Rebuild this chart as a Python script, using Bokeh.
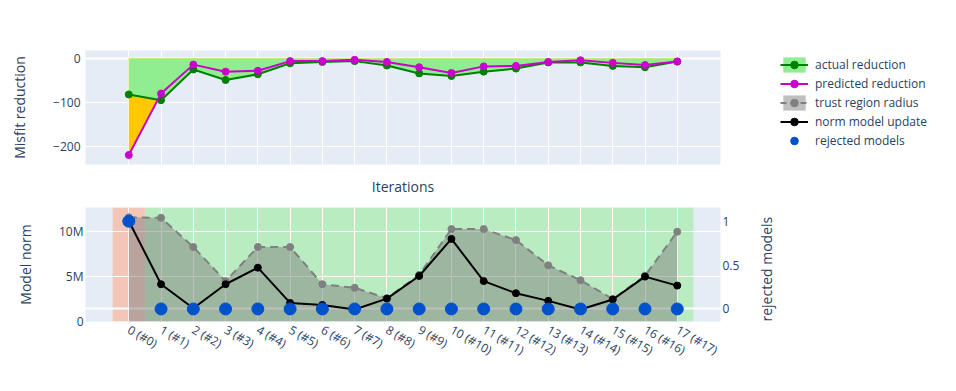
import math
from bokeh.plotting import figure
from bokeh.models import (Range1d, LinearAxis, FixedTicker, Grid, Legend, LegendItem,
                          ColumnDataSource, BoxAnnotation)
from bokeh.layouts import column
from bokeh.embed import file_html
from bokeh.resources import INLINE

# ---------------- data ----------------
iterations = [0, 1, 2, 3, 4, 5, 6, 7, 8, 9, 10, 11, 12, 13, 14, 15, 16, 17]
tick_labels = ["0 (#0)", "1 (#1)", "2 (#2)", "3 (#3)", "4 (#4)", "5 (#5)", "6 (#6)",
               "7 (#7)", "8 (#8)", "9 (#9)", "10 (#10)", "11 (#11)", "12 (#12)",
               "13 (#13)", "14 (#14)", "15 (#15)", "16 (#16)", "17 (#17)"]
actual_reduction = [-82, -95, -25, -49, -36, -11, -8, -6, -16, -34, -40, -30, -23, -9, -9, -17, -20, -7]
predicted_reduction = [-220, -80, -14, -30, -28, -6, -6, -3, -8, -20, -33, -18, -17, -8, -4, -10, -15, -7]
trust_region_radius = [11600000, 11550000, 8300000, 4500000, 8300000, 8300000, 4150000, 3750000,
                       2600000, 5200000, 10300000, 10300000, 9070000, 6260000, 4600000, 2500000,
                       5100000, 10000000]
norm_model_update = [11200000, 4150000, 1480000, 4150000, 6000000, 2070000, 1850000, 1330000,
                     2550000, 5070000, 9200000, 4500000, 3150000, 2300000, 1330000, 2450000,
                     5000000, 4000000]
rejected = [1, 0, 0, 0, 0, 0, 0, 0, 0, 0, 0, 0, 0, 0, 0, 0, 0, 0]

misfit_ticks = [-200, -100, 0]
misfit_tick_labels = ["\u2212200", "\u2212100", "0"]
norm_ticks = [0, 5000000, 10000000]
norm_tick_labels = ["0", "5M", "10M"]
rej_ticks = [0, 0.5, 1]
rej_tick_labels = ["0", "0.5", "1"]

# ---------------- styles ----------------
BG = "#E5ECF6"
TXT = "#2a3f5f"
FONT = "Open Sans"
GREEN_FILL = "#90EE90"
YELLOW_FILL = "#FFC800"
GREEN_LINE = "#008000"
MAGENTA = "#cc00cc"
GREY = "#808080"
BLUE = "#0052cc"
REJ_SHADE = "#f3c6b8"
ACC_SHADE = "#b9ecc1"


def style_axis(ax, size="12px"):
    ax.axis_line_color = None
    ax.major_tick_line_color = None
    ax.minor_tick_line_color = None
    ax.major_tick_out = 0
    ax.major_tick_in = 0
    ax.minor_tick_out = 0
    ax.minor_tick_in = 0
    ax.major_label_text_color = TXT
    ax.major_label_text_font = FONT
    ax.major_label_text_font_size = size
    ax.axis_label_text_color = TXT
    ax.axis_label_text_font = FONT
    ax.axis_label_text_font_size = "14px"
    ax.axis_label_text_font_style = "normal"


src = ColumnDataSource(data=dict(
    x=iterations, act=actual_reduction, pred=predicted_reduction,
    trust=trust_region_radius, norm=norm_model_update, rej=rejected,
    zero=[0] * len(iterations)))

x_range = Range1d(-1.342, 18.34)
FW, FH = 635, 114
ML, MR = 85, 236

# ---------------- top plot ----------------
top = figure(frame_width=FW, frame_height=FH, min_border_left=ML, min_border_right=MR,
             min_border_top=50, min_border_bottom=32, x_range=x_range,
             y_range=Range1d(-241.6, 18.2), output_backend="svg", toolbar_location=None,
             background_fill_color=BG, outline_line_color=None)
top.xaxis.ticker = FixedTicker(ticks=iterations)
top.xaxis.axis_label = "Iterations"
style_axis(top.xaxis[0], size="0px")
top.xaxis.major_label_standoff = 0
top.xaxis.axis_label_standoff = 12
top.yaxis.ticker = FixedTicker(ticks=misfit_ticks)
top.yaxis.major_label_overrides = dict(zip(misfit_ticks, misfit_tick_labels))
top.yaxis.axis_label = "Misfit reduction"
style_axis(top.yaxis[0])
top.yaxis.major_label_standoff = 5
top.yaxis.axis_label_standoff = 21
top.xgrid.ticker = FixedTicker(ticks=iterations)
top.xgrid.grid_line_color = "white"
top.ygrid.ticker = FixedTicker(ticks=[-200, -100])
top.ygrid.grid_line_color = "white"
top.add_layout(Grid(dimension=1, ticker=FixedTicker(ticks=[0]), grid_line_color="white",
                    grid_line_width=2))

pred_area = top.varea(x="x", y1="pred", y2="zero", source=src, fill_color=YELLOW_FILL)
act_area = top.varea(x="x", y1="act", y2="zero", source=src, fill_color=GREEN_FILL)
act_line = top.line("x", "act", source=src, line_color=GREEN_LINE, line_width=2)
act_pts = top.scatter("x", "act", source=src, size=7, color=GREEN_LINE)
pred_line = top.line("x", "pred", source=src, line_color=MAGENTA, line_width=2)
pred_pts = top.scatter("x", "pred", source=src, size=7, color=MAGENTA)

# legend proxies (a single NaN point, never drawn) for the bottom-plot series
proxy = ColumnDataSource(data=dict(x=[float("nan")], y=[float("nan")]))
tr_area_l = top.varea(x="x", y1="y", y2="y", source=proxy, fill_color=GREY, fill_alpha=0.5)
tr_line_l = top.line("x", "y", source=proxy, line_color=GREY, line_width=2, line_dash="6 4")
tr_pts_l = top.scatter("x", "y", source=proxy, size=7, color=GREY)
nm_line_l = top.line("x", "y", source=proxy, line_color="black", line_width=2)
nm_pts_l = top.scatter("x", "y", source=proxy, size=7, color="black")
rj_pts_l = top.scatter("x", "y", source=proxy, size=12, color=BLUE)

legend = Legend(items=[
    LegendItem(label="actual reduction", renderers=[act_area, act_line, act_pts]),
    LegendItem(label="predicted reduction", renderers=[pred_line, pred_pts]),
    LegendItem(label="trust region radius", renderers=[tr_area_l, tr_line_l, tr_pts_l]),
    LegendItem(label="norm model update", renderers=[nm_line_l, nm_pts_l]),
    LegendItem(label="rejected models", renderers=[rj_pts_l]),
], location=(60, 14), glyph_width=28, glyph_height=19, label_height=19, spacing=0,
    padding=0, margin=0, label_standoff=7, border_line_alpha=0, background_fill_alpha=0,
    label_text_font=FONT, label_text_font_size="12px", label_text_color=TXT)
top.add_layout(legend, "right")

# ---------------- bottom plot ----------------
bot = figure(frame_width=FW, frame_height=FH, min_border_left=ML, min_border_right=MR,
             min_border_top=9, min_border_bottom=64, x_range=x_range,
             y_range=Range1d(0, 12700000), output_backend="svg", toolbar_location=None,
             background_fill_color=BG, outline_line_color=None)
bot.extra_y_ranges = {"rej": Range1d(-0.143, 1.156)}

# shaded rejected / accepted spans (runs of equal status)
runs = []
for i, r in zip(iterations, rejected):
    if runs and runs[-1][2] == r and runs[-1][1] == i - 1:
        runs[-1][1] = i
    else:
        runs.append([i, i, r])
for a, b, r in runs:
    bot.add_layout(BoxAnnotation(left=a - 0.5, right=b + 0.5,
                                 fill_color=REJ_SHADE if r else ACC_SHADE, fill_alpha=1.0,
                                 line_alpha=0, level="image"))

bot.xaxis.ticker = FixedTicker(ticks=iterations)
bot.xaxis.major_label_overrides = dict(zip(iterations, tick_labels))
style_axis(bot.xaxis[0])
bot.xaxis.major_label_orientation = -math.pi / 6
bot.xaxis.major_label_standoff = 7
bot.yaxis.ticker = FixedTicker(ticks=norm_ticks)
bot.yaxis.major_label_overrides = dict(zip(norm_ticks, norm_tick_labels))
bot.yaxis.axis_label = "Model norm"
style_axis(bot.yaxis[0])
bot.yaxis.major_label_standoff = 2
bot.yaxis.axis_label_standoff = 21

rax = LinearAxis(y_range_name="rej", ticker=FixedTicker(ticks=rej_ticks),
                 axis_label="rejected models")
rax.major_label_overrides = dict(zip(rej_ticks, rej_tick_labels))
style_axis(rax)
rax.major_label_standoff = 2
props = rax.properties()
if "axis_label_orientation" in props and "axis_label_align" in props:
    rax.axis_label_orientation = math.pi / 2
    rax.axis_label_align = "start"
    rax.axis_label_standoff = 24
else:
    rax.axis_label_standoff = 10
bot.add_layout(rax, "right")

bot.xgrid.ticker = FixedTicker(ticks=iterations)
bot.xgrid.grid_line_color = "white"
bot.ygrid.ticker = FixedTicker(ticks=norm_ticks)
bot.ygrid.grid_line_color = "white"
bot.add_layout(Grid(dimension=1, y_range_name="rej", ticker=FixedTicker(ticks=[0]),
                    grid_line_color="white", grid_line_width=2))

bot.varea(x="x", y1="zero", y2="trust", source=src, fill_color=GREY, fill_alpha=0.5)
bot.line("x", "trust", source=src, line_color=GREY, line_width=2, line_dash="8 5")
bot.scatter("x", "trust", source=src, size=7, color=GREY)
bot.line("x", "norm", source=src, line_color="black", line_width=2)
bot.scatter("x", "norm", source=src, size=7, color="black")
bot.scatter("x", "rej", source=src, size=12, color=BLUE, y_range_name="rej")

layout = column(top, bot)
open("out.html", "w").write(file_html(layout, INLINE))
